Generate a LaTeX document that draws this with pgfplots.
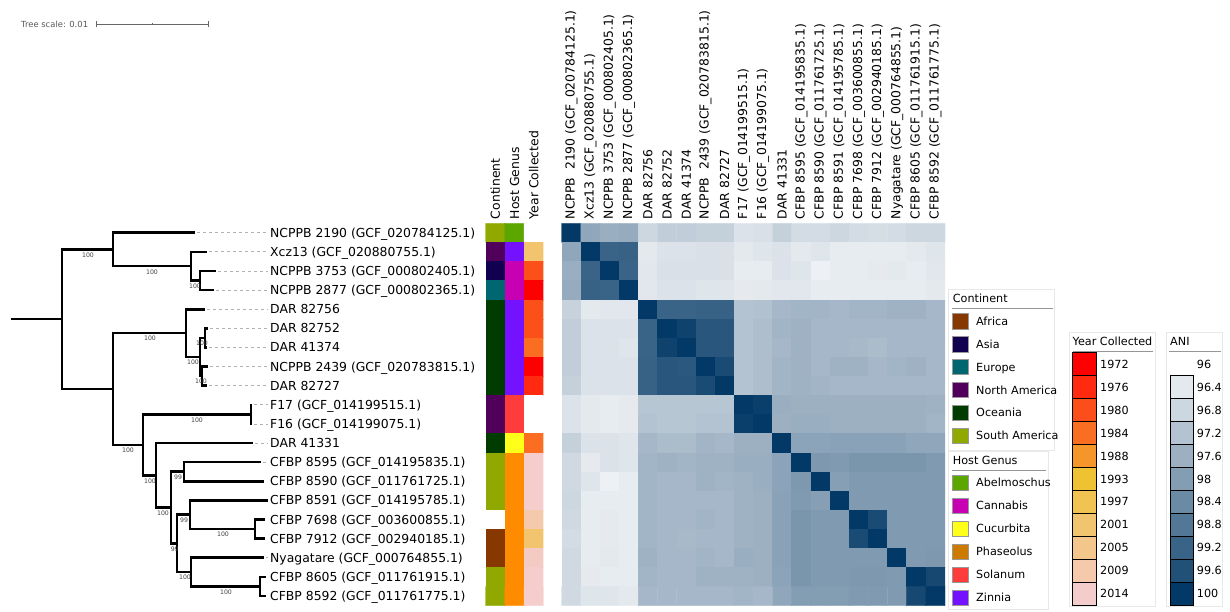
\documentclass[border=0pt]{standalone}
\usepackage{pgfplots}
\pgfplotsset{compat=1.18}
\usepackage{fontspec}
\setmainfont{DejaVu Sans}
\newcommand\lbl{\fontsize{12.4}{14}\selectfont}
\newcommand\lgd{\fontsize{11.2}{13}\selectfont}
\newcommand\bsl{\fontsize{6.2}{7}\selectfont}
\newcommand\tsl{\fontsize{8.4}{10}\selectfont}
% continent / host / year colours
\definecolor{afr}{RGB}{135,56,0}
\definecolor{asi}{RGB}{16,0,79}
\definecolor{eur}{RGB}{0,102,112}
\definecolor{nam}{RGB}{80,0,90}
\definecolor{oce}{RGB}{0,59,0}
\definecolor{sam}{RGB}{144,168,0}
\definecolor{abe}{RGB}{92,166,0}
\definecolor{can}{RGB}{200,0,180}
\definecolor{cuc}{RGB}{255,255,26}
\definecolor{pha}{RGB}{205,123,0}
\definecolor{sol}{RGB}{255,60,60}
\definecolor{zin}{RGB}{116,17,255}
\definecolor{y72}{RGB}{255,0,0}
\definecolor{y76}{RGB}{255,42,16}
\definecolor{y80}{RGB}{252,78,26}
\definecolor{y84}{RGB}{250,110,34}
\definecolor{y88}{RGB}{244,150,42}
\definecolor{y93}{RGB}{239,194,52}
\definecolor{y97}{RGB}{240,195,82}
\definecolor{y01}{RGB}{241,196,112}
\definecolor{y05}{RGB}{243,199,140}
\definecolor{y09}{RGB}{244,201,172}
\definecolor{y14}{RGB}{245,204,204}
\definecolor{a1}{RGB}{228,233,238}
\definecolor{a2}{RGB}{205,215,224}
\definecolor{a3}{RGB}{180,195,209}
\definecolor{a4}{RGB}{156,176,194}
\definecolor{a5}{RGB}{131,157,179}
\definecolor{a6}{RGB}{107,138,164}
\definecolor{a7}{RGB}{83,119,150}
\definecolor{a8}{RGB}{58,100,135}
\definecolor{a9}{RGB}{34,81,120}
\definecolor{a10}{RGB}{3,57,102}
\definecolor{frame}{RGB}{232,232,232}
\definecolor{uline}{RGB}{150,150,150}
\begin{document}
\begin{tikzpicture}
% ---------------- canvas: tree, labels, legends (pixel coordinates) -------------
\begin{axis}[at={(0,0)}, anchor=south west, scale only axis, width=1230pt, height=611pt,
  xmin=0, xmax=1230, ymin=0, ymax=611, y dir=reverse, hide axis, clip=false]
\addplot[draw=none, forget plot] coordinates {(0,0) (1230,611)};
\coordinate (hmNW) at (axis cs:561.7,223.3);
\coordinate (stNW) at (axis cs:485.7,223.3);
% tree scale
\node[anchor=base west, font=\tsl, text=black!65, inner sep=0] at (axis cs:21,27) {Tree scale: 0.01};
\addplot[black!60, line width=0.8pt] coordinates {(96,24) (208,24)};
\addplot[black!60, line width=0.8pt] coordinates {(96,21) (96,27)};
\addplot[black!60, line width=0.8pt] coordinates {(208,21) (208,27)};
\addplot[black!60, line width=0.8pt] coordinates {(152,23) (152,25)};
% dashed leaders
\pgfplotsset{leader/.style={black!30, line width=0.8pt, dash pattern=on 3pt off 3pt}}
\addplot[leader] coordinates {(197,232.7) (268,232.7)};
\addplot[leader] coordinates {(209,251.8) (268,251.8)};
\addplot[leader] coordinates {(218,270.9) (268,270.9)};
\addplot[leader] coordinates {(216,290.1) (268,290.1)};
\addplot[leader] coordinates {(207,309.2) (268,309.2)};
\addplot[leader] coordinates {(210,328.3) (268,328.3)};
\addplot[leader] coordinates {(209,347.4) (268,347.4)};
\addplot[leader] coordinates {(210,366.5) (268,366.5)};
\addplot[leader] coordinates {(209,385.7) (268,385.7)};
\addplot[leader] coordinates {(254,404.8) (268,404.8)};
\addplot[leader] coordinates {(254,423.9) (268,423.9)};
\addplot[leader] coordinates {(255,443.0) (268,443.0)};
\addplot[leader] coordinates {(263,462.1) (268,462.1)};
\addplot[leader] coordinates {(266,557.7) (268,557.7)};
% tree branches
\pgfplotsset{br/.style={black, line width=2.6pt, line cap=rect, line join=miter}}
\addplot[br] coordinates {(12,319.19) (62,319.19)};
\addplot[br] coordinates {(113,249.43) (62,249.43) (62,388.95) (113,388.95)};
\addplot[br] coordinates {(194,232.7) (113,232.7) (113,266.15) (191,266.15)};
\addplot[br] coordinates {(206,251.8) (191,251.8) (191,280.5) (200,280.5)};
\addplot[br] coordinates {(215,270.9) (200,270.9) (200,290.1) (213,290.1)};
\addplot[br] coordinates {(186,333.09) (113,333.09) (113,444.8) (143,444.8)};
\addplot[br] coordinates {(204,309.2) (186,309.2) (186,356.98) (200,356.98)};
\addplot[br] coordinates {(205,337.85) (200,337.85) (200,376.1) (202,376.1)};
\addplot[br] coordinates {(207,328.3) (205,328.3) (205,347.4) (205.5,347.4)};
\addplot[br] coordinates {(207,366.5) (202,366.5) (202,385.7) (206,385.7)};
\addplot[br] coordinates {(251,414.35) (143,414.35) (143,475.28) (156,475.28)};
\addplot[br] coordinates {(251,404.8) (251,423.9)};
\addplot[br] coordinates {(252,443.0) (156,443.0) (156,507.55) (171,507.55)};
\addplot[br] coordinates {(184,471.7) (171,471.7) (171,543.4) (177,543.4)};
\addplot[br] coordinates {(260,462.1) (184,462.1) (184,481.3) (263,481.3)};
\addplot[br] coordinates {(190,514.73) (177,514.73) (177,572.08) (191,572.08)};
\addplot[br] coordinates {(267,500.4) (190,500.4) (190,529.05) (255,529.05)};
\addplot[br] coordinates {(264,519.5) (255,519.5) (255,538.6) (264,538.6)};
\addplot[br] coordinates {(263,557.7) (191,557.7) (191,586.45) (260,586.45)};
\addplot[br] coordinates {(265,576.9) (260,576.9) (260,596.0) (265,596.0)};
% bootstrap values
\tikzset{bs/.style={anchor=north, inner sep=0, font=\bsl, text=black!75}}
\node[bs] at (axis cs:88,252.5) {100};
\node[bs] at (axis cs:152,269.2) {100};
\node[bs] at (axis cs:195,283.5) {100};
\node[bs] at (axis cs:150,336.1) {100};
\node[bs] at (axis cs:202,340.9) {100};
\node[bs] at (axis cs:193,360.0) {100};
\node[bs] at (axis cs:201,379.1) {100};
\node[bs] at (axis cs:197,417.4) {100};
\node[bs] at (axis cs:128,447.8) {100};
\node[bs] at (axis cs:150,478.3) {100};
\node[bs] at (axis cs:163,510.6) {100};
\node[bs] at (axis cs:178,474.7) {99};
\node[bs] at (axis cs:174.7,546.4) {99};
\node[bs] at (axis cs:184,517.7) {99};
\node[bs] at (axis cs:223,532.1) {100};
\node[bs] at (axis cs:185,575.1) {100};
\node[bs] at (axis cs:226,589.5) {100};
% leaf labels
\tikzset{lf/.style={anchor=base west, inner sep=0, font=\lbl}}
\node[lf] at (axis cs:270,237.2) {NCPPB 2190 (GCF\_020784125.1)};
\node[lf] at (axis cs:270,256.3) {Xcz13 (GCF\_020880755.1)};
\node[lf] at (axis cs:270,275.4) {NCPPB 3753 (GCF\_000802405.1)};
\node[lf] at (axis cs:270,294.6) {NCPPB 2877 (GCF\_000802365.1)};
\node[lf] at (axis cs:270,313.7) {DAR 82756};
\node[lf] at (axis cs:270,332.8) {DAR 82752};
\node[lf] at (axis cs:270,351.9) {DAR 41374};
\node[lf] at (axis cs:270,371.0) {NCPPB 2439 (GCF\_020783815.1)};
\node[lf] at (axis cs:270,390.2) {DAR 82727};
\node[lf] at (axis cs:270,409.3) {F17 (GCF\_014199515.1)};
\node[lf] at (axis cs:270,428.4) {F16 (GCF\_014199075.1)};
\node[lf] at (axis cs:270,447.5) {DAR 41331};
\node[lf] at (axis cs:270,466.6) {CFBP 8595 (GCF\_014195835.1)};
\node[lf] at (axis cs:270,485.8) {CFBP 8590 (GCF\_011761725.1)};
\node[lf] at (axis cs:270,504.9) {CFBP 8591 (GCF\_014195785.1)};
\node[lf] at (axis cs:270,524.0) {CFBP 7698 (GCF\_003600855.1)};
\node[lf] at (axis cs:270,543.1) {CFBP 7912 (GCF\_002940185.1)};
\node[lf] at (axis cs:270,562.2) {Nyagatare (GCF\_000764855.1)};
\node[lf] at (axis cs:270,581.4) {CFBP 8605 (GCF\_011761915.1)};
\node[lf] at (axis cs:270,600.5) {CFBP 8592 (GCF\_011761775.1)};
% ---- legend boxes ----
\pgfplotsset{fr/.style={draw=frame, line width=0.8pt}, ul/.style={draw=uline, line width=0.8pt}}
\tikzset{lt/.style={anchor=base west, inner sep=0, font=\lgd}}
% Continent
\addplot[fr] coordinates {(948.3,289.3) (1054.3,289.3) (1054.3,450) (948.3,450)} -- cycle;
\node[lt] at (axis cs:952.7,302.4) {Continent};
\addplot[ul] coordinates {(952,308.3) (1053,308.3)};
\pgfplotsset{sw/.style={only marks, mark=square*, mark size=7.85pt, mark options={fill=#1, draw=black!40, line width=0.6pt}}}
\addplot[sw=afr] coordinates {(960.2,321.0)};
\addplot[sw=asi] coordinates {(960.2,344.0)};
\addplot[sw=eur] coordinates {(960.2,366.9)};
\addplot[sw=nam] coordinates {(960.2,389.9)};
\addplot[sw=oce] coordinates {(960.2,412.8)};
\addplot[sw=sam] coordinates {(960.2,435.8)};
\node[lt] at (axis cs:976,325.1) {Africa};
\node[lt] at (axis cs:976,348.1) {Asia};
\node[lt] at (axis cs:976,371.0) {Europe};
\node[lt] at (axis cs:976,394.0) {North America};
\node[lt] at (axis cs:976,416.9) {Oceania};
\node[lt] at (axis cs:976,439.9) {South America};
% Host genus
\addplot[fr] coordinates {(948.3,451.7) (1048.3,451.7) (1048.3,609) (948.3,609)} -- cycle;
\node[lt] at (axis cs:952.7,464.1) {Host Genus};
\addplot[ul] coordinates {(952,470.7) (1046,470.7)};
\addplot[sw=abe] coordinates {(960.2,482.7)};
\addplot[sw=can] coordinates {(960.2,505.7)};
\addplot[sw=cuc] coordinates {(960.2,528.7)};
\addplot[sw=pha] coordinates {(960.2,551.7)};
\addplot[sw=sol] coordinates {(960.2,574.7)};
\addplot[sw=zin] coordinates {(960.2,597.7)};
\node[lt] at (axis cs:976,486.8) {Abelmoschus};
\node[lt] at (axis cs:976,509.8) {Cannabis};
\node[lt] at (axis cs:976,532.8) {Cucurbita};
\node[lt] at (axis cs:976,555.8) {Phaseolus};
\node[lt] at (axis cs:976,578.8) {Solanum};
\node[lt] at (axis cs:976,601.8) {Zinnia};
% Year collected
\addplot[fr] coordinates {(1069.3,332.7) (1155.3,332.7) (1155.3,606.7) (1069.3,606.7)} -- cycle;
\node[lt] at (axis cs:1072.5,345.4) {Year Collected};
\addplot[ul] coordinates {(1073,351) (1153,351)};
\pgfplotsset{cb/.style={only marks, mark=square*, mark size=11.7pt, mark options={fill=#1, draw=none}}}
\addplot[cb=y72] coordinates {(1084,364.2)};
\addplot[cb=y76] coordinates {(1084,387.1)};
\addplot[cb=y80] coordinates {(1084,410.1)};
\addplot[cb=y84] coordinates {(1084,433.0)};
\addplot[cb=y88] coordinates {(1084,456.0)};
\addplot[cb=y93] coordinates {(1084,478.9)};
\addplot[cb=y97] coordinates {(1084,501.8)};
\addplot[cb=y01] coordinates {(1084,524.8)};
\addplot[cb=y05] coordinates {(1084,547.7)};
\addplot[cb=y09] coordinates {(1084,570.7)};
\addplot[cb=y14] coordinates {(1084,593.6)};
\node[lt] at (axis cs:1100,368.3) {1972};
\node[lt] at (axis cs:1100,391.2) {1976};
\node[lt] at (axis cs:1100,414.2) {1980};
\node[lt] at (axis cs:1100,437.1) {1984};
\node[lt] at (axis cs:1100,460.1) {1988};
\node[lt] at (axis cs:1100,483.0) {1993};
\node[lt] at (axis cs:1100,505.9) {1997};
\node[lt] at (axis cs:1100,528.9) {2001};
\node[lt] at (axis cs:1100,551.8) {2005};
\node[lt] at (axis cs:1100,574.8) {2009};
\node[lt] at (axis cs:1100,597.7) {2014};
% ANI
\addplot[fr] coordinates {(1166.7,332.7) (1222.7,332.7) (1222.7,606.7) (1166.7,606.7)} -- cycle;
\node[lt] at (axis cs:1170,345.4) {ANI};
\addplot[ul] coordinates {(1169,351) (1221,351)};
\pgfplotsset{ab/.style={only marks, mark=square*, mark size=11.65pt, mark options={fill=#1, draw=none}}}
\addplot[ab=a1] coordinates {(1181.7,387.1)};
\addplot[ab=a2] coordinates {(1181.7,410.1)};
\addplot[ab=a3] coordinates {(1181.7,433.0)};
\addplot[ab=a4] coordinates {(1181.7,456.0)};
\addplot[ab=a5] coordinates {(1181.7,478.9)};
\addplot[ab=a6] coordinates {(1181.7,501.8)};
\addplot[ab=a7] coordinates {(1181.7,524.8)};
\addplot[ab=a8] coordinates {(1181.7,547.7)};
\addplot[ab=a9] coordinates {(1181.7,570.7)};
\addplot[ab=a10] coordinates {(1181.7,593.6)};
\node[lt] at (axis cs:1196.7,368.3) {96};
\node[lt] at (axis cs:1196.7,391.2) {96.4};
\node[lt] at (axis cs:1196.7,414.2) {96.8};
\node[lt] at (axis cs:1196.7,437.1) {97.2};
\node[lt] at (axis cs:1196.7,460.1) {97.6};
\node[lt] at (axis cs:1196.7,483.0) {98};
\node[lt] at (axis cs:1196.7,505.9) {98.4};
\node[lt] at (axis cs:1196.7,528.9) {98.8};
\node[lt] at (axis cs:1196.7,551.8) {99.2};
\node[lt] at (axis cs:1196.7,574.8) {99.6};
\node[lt] at (axis cs:1196.7,597.7) {100};
\end{axis}
% ---------------- annotation strips ----------------
\begin{axis}[at={(stNW)}, anchor=north west, scale only axis, width=57.6pt, height=382.4pt,
  xmin=-0.5, xmax=2.5, ymin=-19.5, ymax=0.5, axis line style={draw=none}, major tick length=0pt,
  xtick={0,1,2}, xticklabels={Continent, Host Genus, Year Collected}, xticklabel pos=upper,
  xticklabel style={rotate=90, anchor=west, font=\lbl, inner sep=0pt, xshift=0pt},
  xticklabel shift=4pt, ytick=\empty,
  colormap={annot}{rgb255=(255,255,255) rgb255=(135,56,0) rgb255=(16,0,79) rgb255=(0,102,112)
    rgb255=(80,0,90) rgb255=(0,59,0) rgb255=(144,168,0) rgb255=(92,166,0) rgb255=(200,0,180)
    rgb255=(255,255,26) rgb255=(255,140,0) rgb255=(255,60,60) rgb255=(116,17,255)
    rgb255=(255,0,0) rgb255=(255,42,16) rgb255=(252,80,25) rgb255=(251,110,34)
    rgb255=(242,196,110) rgb255=(244,201,172) rgb255=(245,205,205) rgb255=(244,203,195)},
  colormap access=direct]
\addplot[matrix plot*, mesh/cols=3, point meta=explicit] coordinates {
(0,0)[6] (1,0)[7] (2,0)[0]
(0,-1)[4] (1,-1)[12] (2,-1)[17]
(0,-2)[2] (1,-2)[8] (2,-2)[15]
(0,-3)[3] (1,-3)[8] (2,-3)[13]
(0,-4)[5] (1,-4)[12] (2,-4)[15]
(0,-5)[5] (1,-5)[12] (2,-5)[15]
(0,-6)[5] (1,-6)[12] (2,-6)[16]
(0,-7)[5] (1,-7)[12] (2,-7)[13]
(0,-8)[5] (1,-8)[12] (2,-8)[14]
(0,-9)[4] (1,-9)[11] (2,-9)[0]
(0,-10)[4] (1,-10)[11] (2,-10)[0]
(0,-11)[5] (1,-11)[9] (2,-11)[16]
(0,-12)[6] (1,-12)[10] (2,-12)[19]
(0,-13)[6] (1,-13)[10] (2,-13)[19]
(0,-14)[6] (1,-14)[10] (2,-14)[19]
(0,-15)[0] (1,-15)[10] (2,-15)[18]
(0,-16)[1] (1,-16)[10] (2,-16)[17]
(0,-17)[1] (1,-17)[10] (2,-17)[20]
(0,-18)[6] (1,-18)[10] (2,-18)[19]
(0,-19)[6] (1,-19)[10] (2,-19)[19]
};
\end{axis}
% ---------------- ANI heatmap ----------------
\begin{axis}[at={(hmNW)}, anchor=north west, scale only axis, width=383.3pt, height=382.4pt,
  xmin=-0.5, xmax=19.5, ymin=-19.5, ymax=0.5, axis line style={draw=none}, major tick length=0pt,
  xtick={0,...,19}, xticklabel pos=upper,
  xticklabels={NCPPB\ \ 2190 (GCF\_020784125.1), Xcz13 (GCF\_020880755.1), NCPPB 3753 (GCF\_000802405.1),
    NCPPB 2877 (GCF\_000802365.1), DAR 82756, DAR 82752, DAR 41374, NCPPB\ \ 2439 (GCF\_020783815.1),
    DAR 82727, F17 (GCF\_014199515.1), F16 (GCF\_014199075.1), DAR 41331, CFBP 8595 (GCF\_014195835.1),
    CFBP 8590 (GCF\_011761725.1), CFBP 8591 (GCF\_014195785.1), CFBP 7698 (GCF\_003600855.1),
    CFBP 7912 (GCF\_002940185.1), Nyagatare (GCF\_000764855.1), CFBP 8605 (GCF\_011761915.1),
    CFBP 8592 (GCF\_011761775.1)},
  xticklabel style={rotate=90, anchor=west, font=\lbl, inner sep=0pt},
  xticklabel shift=4pt, ytick=\empty,
  colormap={ani}{rgb255(0)=(242,244,247) rgb255(4)=(228,233,238) rgb255(8)=(205,215,224)
    rgb255(12)=(180,195,209) rgb255(16)=(156,176,194) rgb255(20)=(131,157,179)
    rgb255(24)=(107,138,164) rgb255(28)=(83,119,150) rgb255(32)=(58,100,135)
    rgb255(36)=(34,81,120) rgb255(40)=(3,57,102)},
  point meta min=96, point meta max=100]
\addplot[matrix plot*, mesh/cols=20, point meta=explicit] coordinates {
(0,0)[100] (1,0)[97.8] (2,0)[97.65] (3,0)[97.7] (4,0)[96.8] (5,0)[97.0] (6,0)[97.0] (7,0)[96.95] (8,0)[96.95] (9,0)[96.55] (10,0)[96.6] (11,0)[96.95] (12,0)[96.7] (13,0)[96.7] (14,0)[96.8] (15,0)[96.7] (16,0)[96.65] (17,0)[96.7] (18,0)[96.8] (19,0)[96.8]
(0,-1)[97.8] (1,-1)[100] (2,-1)[99.2] (3,-1)[99.25] (4,-1)[96.4] (5,-1)[96.55] (6,-1)[96.55] (7,-1)[96.6] (8,-1)[96.6] (9,-1)[96.4] (10,-1)[96.5] (11,-1)[96.55] (12,-1)[96.4] (13,-1)[96.5] (14,-1)[96.3] (15,-1)[96.3] (16,-1)[96.3] (17,-1)[96.3] (18,-1)[96.4] (19,-1)[96.5]
(0,-2)[97.65] (1,-2)[99.2] (2,-2)[100] (3,-2)[99.2] (4,-2)[96.45] (5,-2)[96.6] (6,-2)[96.6] (7,-2)[96.6] (8,-2)[96.6] (9,-2)[96.3] (10,-2)[96.3] (11,-2)[96.55] (12,-2)[96.5] (13,-2)[96.15] (14,-2)[96.3] (15,-2)[96.3] (16,-2)[96.35] (17,-2)[96.4] (18,-2)[96.3] (19,-2)[96.45]
(0,-3)[97.7] (1,-3)[99.25] (2,-3)[99.2] (3,-3)[100] (4,-3)[96.45] (5,-3)[96.55] (6,-3)[96.55] (7,-3)[96.5] (8,-3)[96.5] (9,-3)[96.35] (10,-3)[96.4] (11,-3)[96.45] (12,-3)[96.45] (13,-3)[96.3] (14,-3)[96.3] (15,-3)[96.3] (16,-3)[96.3] (17,-3)[96.3] (18,-3)[96.3] (19,-3)[96.4]
(0,-4)[96.9] (1,-4)[96.4] (2,-4)[96.45] (3,-4)[96.45] (4,-4)[100] (5,-4)[99.2] (6,-4)[99.2] (7,-4)[99.25] (8,-4)[99.25] (9,-4)[97.2] (10,-4)[97.25] (11,-4)[97.45] (12,-4)[97.5] (13,-4)[97.5] (14,-4)[97.45] (15,-4)[97.5] (16,-4)[97.5] (17,-4)[97.55] (18,-4)[97.55] (19,-4)[97.45]
(0,-5)[97.0] (1,-5)[96.55] (2,-5)[96.55] (3,-5)[96.55] (4,-5)[99.2] (5,-5)[100] (6,-5)[99.85] (7,-5)[99.5] (8,-5)[99.5] (9,-5)[97.2] (10,-5)[97.3] (11,-5)[97.5] (12,-5)[97.55] (13,-5)[97.45] (14,-5)[97.45] (15,-5)[97.45] (16,-5)[97.45] (17,-5)[97.45] (18,-5)[97.45] (19,-5)[97.45]
(0,-6)[97.0] (1,-6)[96.55] (2,-6)[96.55] (3,-6)[96.5] (4,-6)[99.2] (5,-6)[99.85] (6,-6)[100] (7,-6)[99.5] (8,-6)[99.5] (9,-6)[97.2] (10,-6)[97.3] (11,-6)[97.45] (12,-6)[97.55] (13,-6)[97.45] (14,-6)[97.45] (15,-6)[97.4] (16,-6)[97.35] (17,-6)[97.45] (18,-6)[97.45] (19,-6)[97.45]
(0,-7)[97.0] (1,-7)[96.55] (2,-7)[96.55] (3,-7)[96.55] (4,-7)[99.25] (5,-7)[99.5] (6,-7)[99.45] (7,-7)[100] (8,-7)[99.7] (9,-7)[97.2] (10,-7)[97.3] (11,-7)[97.5] (12,-7)[97.55] (13,-7)[97.45] (14,-7)[97.55] (15,-7)[97.55] (16,-7)[97.45] (17,-7)[97.5] (18,-7)[97.55] (19,-7)[97.45]
(0,-8)[96.95] (1,-8)[96.55] (2,-8)[96.55] (3,-8)[96.55] (4,-8)[99.25] (5,-8)[99.5] (6,-8)[99.5] (7,-8)[99.7] (8,-8)[100] (9,-8)[97.2] (10,-8)[97.3] (11,-8)[97.5] (12,-8)[97.55] (13,-8)[97.5] (14,-8)[97.45] (15,-8)[97.45] (16,-8)[97.45] (17,-8)[97.45] (18,-8)[97.45] (19,-8)[97.45]
(0,-9)[96.55] (1,-9)[96.4] (2,-9)[96.3] (3,-9)[96.35] (4,-9)[97.15] (5,-9)[97.15] (6,-9)[97.15] (7,-9)[97.15] (8,-9)[97.15] (9,-9)[100] (10,-9)[99.9] (11,-9)[97.65] (12,-9)[97.6] (13,-9)[97.6] (14,-9)[97.6] (15,-9)[97.6] (16,-9)[97.6] (17,-9)[97.6] (18,-9)[97.6] (19,-9)[97.55]
(0,-10)[96.55] (1,-10)[96.4] (2,-10)[96.3] (3,-10)[96.35] (4,-10)[97.2] (5,-10)[97.15] (6,-10)[97.15] (7,-10)[97.2] (8,-10)[97.2] (9,-10)[99.9] (10,-10)[100] (11,-10)[97.6] (12,-10)[97.65] (13,-10)[97.65] (14,-10)[97.6] (15,-10)[97.6] (16,-10)[97.6] (17,-10)[97.6] (18,-10)[97.6] (19,-10)[97.5]
(0,-11)[96.95] (1,-11)[96.55] (2,-11)[96.55] (3,-11)[96.5] (4,-11)[97.45] (5,-11)[97.35] (6,-11)[97.35] (7,-11)[97.5] (8,-11)[97.45] (9,-11)[97.6] (10,-11)[97.6] (11,-11)[100] (12,-11)[97.85] (13,-11)[97.85] (14,-11)[97.9] (15,-11)[97.9] (16,-11)[97.9] (17,-11)[97.9] (18,-11)[97.8] (19,-11)[97.8]
(0,-12)[96.75] (1,-12)[96.35] (2,-12)[96.55] (3,-12)[96.5] (4,-12)[97.5] (5,-12)[97.55] (6,-12)[97.5] (7,-12)[97.55] (8,-12)[97.55] (9,-12)[97.65] (10,-12)[97.65] (11,-12)[97.85] (12,-12)[100] (13,-12)[98.1] (14,-12)[98.05] (15,-12)[98.15] (16,-12)[98.15] (17,-12)[98.15] (18,-12)[98.15] (19,-12)[98.05]
(0,-13)[96.75] (1,-13)[96.5] (2,-13)[96.15] (3,-13)[96.3] (4,-13)[97.5] (5,-13)[97.45] (6,-13)[97.45] (7,-13)[97.55] (8,-13)[97.5] (9,-13)[97.55] (10,-13)[97.65] (11,-13)[97.85] (12,-13)[98.1] (13,-13)[100] (14,-13)[97.95] (15,-13)[98.05] (16,-13)[98.05] (17,-13)[98.05] (18,-13)[98.05] (19,-13)[98.05]
(0,-14)[96.8] (1,-14)[96.3] (2,-14)[96.3] (3,-14)[96.3] (4,-14)[97.5] (5,-14)[97.45] (6,-14)[97.45] (7,-14)[97.45] (8,-14)[97.45] (9,-14)[97.55] (10,-14)[97.6] (11,-14)[97.9] (12,-14)[98.05] (13,-14)[97.95] (14,-14)[100] (15,-14)[98.05] (16,-14)[98.05] (17,-14)[98.05] (18,-14)[98.05] (19,-14)[98.05]
(0,-15)[96.75] (1,-15)[96.3] (2,-15)[96.35] (3,-15)[96.3] (4,-15)[97.5] (5,-15)[97.45] (6,-15)[97.45] (7,-15)[97.5] (8,-15)[97.45] (9,-15)[97.55] (10,-15)[97.6] (11,-15)[97.9] (12,-15)[98.15] (13,-15)[98.05] (14,-15)[98.05] (15,-15)[100] (16,-15)[99.7] (17,-15)[98.05] (18,-15)[98.05] (19,-15)[98.05]
(0,-16)[96.7] (1,-16)[96.3] (2,-16)[96.35] (3,-16)[96.3] (4,-16)[97.5] (5,-16)[97.45] (6,-16)[97.4] (7,-16)[97.45] (8,-16)[97.45] (9,-16)[97.55] (10,-16)[97.6] (11,-16)[97.9] (12,-16)[98.15] (13,-16)[98.05] (14,-16)[98.05] (15,-16)[99.7] (16,-16)[100] (17,-16)[98.05] (18,-16)[98.05] (19,-16)[98.05]
(0,-17)[96.75] (1,-17)[96.3] (2,-17)[96.4] (3,-17)[96.3] (4,-17)[97.55] (5,-17)[97.45] (6,-17)[97.45] (7,-17)[97.5] (8,-17)[97.45] (9,-17)[97.65] (10,-17)[97.6] (11,-17)[97.9] (12,-17)[98.15] (13,-17)[98.05] (14,-17)[98.05] (15,-17)[98.05] (16,-17)[98.05] (17,-17)[100] (18,-17)[98.05] (19,-17)[98.1]
(0,-18)[96.75] (1,-18)[96.35] (2,-18)[96.3] (3,-18)[96.3] (4,-18)[97.5] (5,-18)[97.45] (6,-18)[97.45] (7,-18)[97.55] (8,-18)[97.55] (9,-18)[97.55] (10,-18)[97.6] (11,-18)[97.85] (12,-18)[98.15] (13,-18)[98.05] (14,-18)[98.05] (15,-18)[98.1] (16,-18)[98.1] (17,-18)[98.05] (18,-18)[100] (19,-18)[99.75]
(0,-19)[96.75] (1,-19)[96.5] (2,-19)[96.5] (3,-19)[96.4] (4,-19)[97.45] (5,-19)[97.45] (6,-19)[97.45] (7,-19)[97.45] (8,-19)[97.45] (9,-19)[97.5] (10,-19)[97.45] (11,-19)[97.8] (12,-19)[98.0] (13,-19)[98.0] (14,-19)[98.0] (15,-19)[98.05] (16,-19)[98.05] (17,-19)[98.05] (18,-19)[99.75] (19,-19)[100]
};
\end{axis}
\end{tikzpicture}
\end{document}
